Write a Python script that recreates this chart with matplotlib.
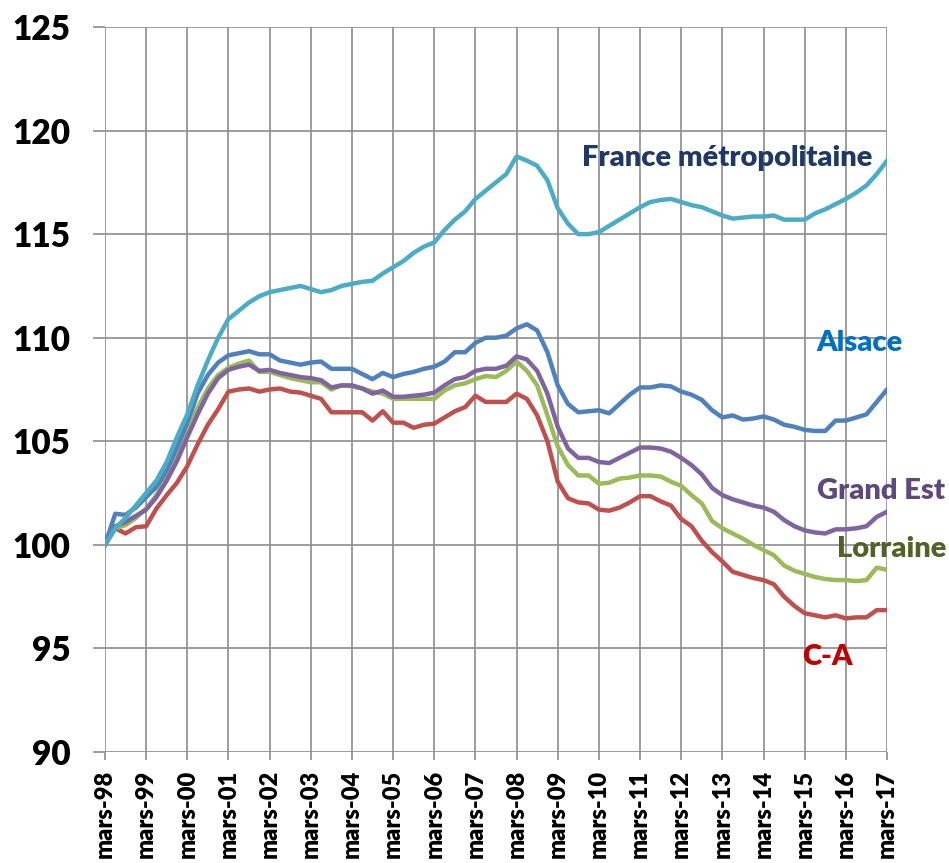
import numpy as np
import matplotlib
matplotlib.use('Agg')
import matplotlib.pyplot as plt

plt.rcParams['font.family'] = ['Lato', 'DejaVu Sans']
plt.rcParams['font.weight'] = 'heavy'

# quarterly index, base 100 = mars-98
years = ['mars-98', 'mars-99', 'mars-00', 'mars-01', 'mars-02', 'mars-03', 'mars-04',
         'mars-05', 'mars-06', 'mars-07', 'mars-08', 'mars-09', 'mars-10', 'mars-11',
         'mars-12', 'mars-13', 'mars-14', 'mars-15', 'mars-16', 'mars-17']

france = [100, 100.8, 101.3, 101.9, 102.5, 103.1, 104.0, 105.2, 106.3, 107.7, 108.9,
          110.0, 110.9, 111.3, 111.7, 112.0, 112.2, 112.3, 112.4, 112.5, 112.35,
          112.2, 112.3, 112.5, 112.6, 112.7, 112.75, 113.1, 113.4, 113.7, 114.1,
          114.4, 114.6, 115.2, 115.7, 116.1, 116.7, 117.1, 117.5, 117.9, 118.75, 118.55,
          118.3, 117.6, 116.25, 115.5, 115.0, 115.0, 115.1, 115.4, 115.7, 116.0,
          116.3, 116.55, 116.65, 116.7, 116.55, 116.4, 116.3, 116.1, 115.9, 115.75,
          115.8, 115.85, 115.85, 115.9, 115.7, 115.7, 115.7, 116.0, 116.2, 116.45,
          116.7, 117.0, 117.35, 117.9, 118.55]

alsace = [100, 101.5, 101.45, 101.8, 102.3, 102.8, 103.6, 104.7, 105.9, 107.3, 108.2,
          108.8, 109.15, 109.25, 109.35, 109.2, 109.2, 108.9, 108.8, 108.7, 108.8,
          108.85, 108.5, 108.5, 108.5, 108.25, 108.0, 108.3, 108.1, 108.25, 108.35,
          108.5, 108.6, 108.85, 109.3, 109.3, 109.75, 110.0, 110.0, 110.1, 110.45, 110.65,
          110.35, 109.3, 107.7, 106.8, 106.4, 106.45, 106.5, 106.35, 106.8, 107.25,
          107.6, 107.6, 107.7, 107.65, 107.4, 107.25, 107.0, 106.5, 106.15, 106.25,
          106.05, 106.1, 106.2, 106.05, 105.8, 105.7, 105.55, 105.5, 105.5, 106.0,
          106.0, 106.15, 106.3, 106.9, 107.5]

grand_est = [100, 100.9, 101.1, 101.4, 101.7, 102.3, 103.1, 104.05, 105.2, 106.3, 107.3,
             108.05, 108.45, 108.6, 108.7, 108.4, 108.45, 108.3, 108.2, 108.1, 108.05,
             107.95, 107.6, 107.7, 107.7, 107.55, 107.3, 107.45, 107.15, 107.15, 107.2,
             107.25, 107.35, 107.7, 108.0, 108.1, 108.4, 108.5, 108.5, 108.65, 109.1, 108.95,
             108.4, 107.3, 105.7, 104.65, 104.2, 104.2, 104.0, 103.95, 104.2, 104.45,
             104.7, 104.7, 104.65, 104.5, 104.2, 103.85, 103.4, 102.75, 102.4, 102.2,
             102.05, 101.9, 101.8, 101.6, 101.2, 100.9, 100.7, 100.6, 100.55, 100.75,
             100.75, 100.8, 100.9, 101.35, 101.6]

lorraine = [100, 100.8, 100.95, 101.3, 101.75, 102.4, 103.3, 104.4, 105.5, 106.6, 107.55,
            108.2, 108.55, 108.75, 108.9, 108.35, 108.35, 108.2, 108.05, 107.95, 107.85,
            107.85, 107.5, 107.7, 107.65, 107.55, 107.4, 107.3, 107.05, 107.05, 107.05,
            107.05, 107.05, 107.45, 107.7, 107.8, 108.0, 108.15, 108.1, 108.4, 108.85, 108.4,
            107.7, 106.25, 104.75, 103.85, 103.35, 103.35, 102.95, 103.0, 103.2, 103.25,
            103.35, 103.35, 103.3, 103.05, 102.85, 102.4, 102.0, 101.15, 100.8, 100.55,
            100.3, 100.0, 99.75, 99.5, 99.0, 98.75, 98.6, 98.45, 98.35, 98.3,
            98.3, 98.25, 98.3, 98.9, 98.8]

ca = [100, 100.8, 100.55, 100.85, 100.9, 101.75, 102.4, 103.0, 103.8, 104.85, 105.8,
      106.55, 107.4, 107.5, 107.55, 107.4, 107.5, 107.55, 107.4, 107.35, 107.2,
      107.05, 106.4, 106.4, 106.4, 106.4, 106.0, 106.45, 105.9, 105.9, 105.65,
      105.8, 105.85, 106.15, 106.45, 106.65, 107.2, 106.9, 106.9, 106.9, 107.3, 107.05,
      106.25, 105.0, 103.05, 102.25, 102.05, 102.0, 101.7, 101.65, 101.8, 102.05,
      102.35, 102.35, 102.1, 101.9, 101.25, 100.9, 100.2, 99.65, 99.2, 98.7,
      98.55, 98.4, 98.3, 98.1, 97.5, 97.05, 96.7, 96.6, 96.5, 96.6,
      96.45, 96.5, 96.5, 96.85, 96.85]

x = np.arange(len(france))

fig = plt.figure(figsize=(9.49, 8.63), dpi=100)
ax = fig.add_axes([0.1106, 0.1286, 0.8241, 0.8401])

ax.plot(x, ca, color='#C0504D', lw=3.2)
ax.plot(x, lorraine, color='#9BBB59', lw=3.2)
ax.plot(x, grand_est, color='#8064A2', lw=3.2)
ax.plot(x, alsace, color='#4F81BD', lw=3.2)
ax.plot(x, france, color='#4BACC6', lw=3.2)

ax.set_xlim(0, len(x) - 1)
ax.set_ylim(90, 125)
ax.set_yticks(np.arange(90, 126, 5))
ax.set_xticks(x[::4])
ax.set_xticklabels(years, rotation=90, fontsize=17, fontweight='heavy')
ax.tick_params(axis='y', labelsize=24, length=9, width=1.2, color='#8C8C8C', pad=16)
ax.tick_params(axis='x', length=6, width=1.2, color='#8C8C8C', pad=7)
for lab in ax.get_yticklabels():
    lab.set_fontweight('heavy')

ax.grid(True, color='#8C8C8C', lw=1.2)
ax.set_axisbelow(True)
for s in ax.spines.values():
    s.set_visible(False)

# series labels
lbl = dict(fontsize=21, fontweight='heavy', ha='center', va='center', clip_on=False)
ax.text(60.5, 118.7, 'France métropolitaine', color='#1F3864', **lbl)
ax.text(73.3, 109.75, 'Alsace', color='#0070C0', **lbl)
ax.text(75.4, 102.6, 'Grand Est', color='#5F497A', **lbl)
ax.text(76.5, 99.8, 'Lorraine', color='#4F6228', **lbl)
ax.text(70.2, 94.6, 'C-A', color='#C00000', **lbl)

fig.savefig('out.png', dpi=100)
